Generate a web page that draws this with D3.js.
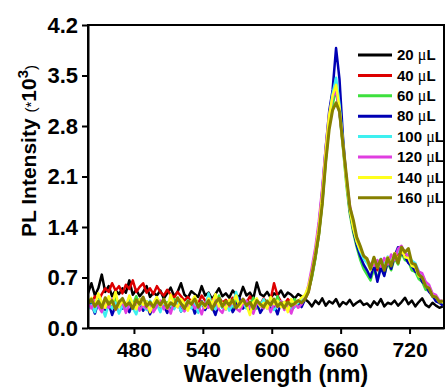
<!DOCTYPE html>
<html>
<head>
<meta charset="utf-8">
<script src="https://cdn.jsdelivr.net/npm/d3@7"></script>
<style>
  body { margin: 0; background: #fff; }
  svg { display: block; font-family: "Liberation Sans", Arial, sans-serif; }
</style>
</head>
<body>
<script>
// sampled wavelengths (nm)
const wavelength = [
  440,443,446,449,452,455,458,461,464,467,
  470,473,476,479,482,485,488,491,494,497,
  500,503,506,509,512,515,518,521,524,527,
  530,533,536,539,542,545,548,551,554,557,
  560,563,566,569,572,575,578,581,584,587,
  590,593,596,599,602,605,608,611,614,617,
  620,623,626,629,632,635,638,641,644,647,
  650,653,656,659,662,665,668,671,674,677,
  680,683,686,689,692,695,698,701,704,707,
  710,713,716,719,722,725,728,731,734,737,
  740,743,746,749
];

// PL intensity (*10^3) per volume
const s20 = [
  0.48,0.62,0.45,0.55,0.74,0.50,0.58,0.44,0.52,0.47,
  0.55,0.49,0.66,0.46,0.53,0.44,0.50,0.58,0.43,0.49,
  0.45,0.52,0.41,0.48,0.56,0.44,0.50,0.62,0.46,0.42,
  0.51,0.47,0.43,0.58,0.45,0.49,0.40,0.47,0.55,0.44,
  0.48,0.42,0.52,0.46,0.43,0.57,0.45,0.49,0.41,0.63,
  0.47,0.44,0.50,0.42,0.48,0.45,0.52,0.43,0.49,0.46,
  0.41,0.47,0.44,
  0.40,0.36,0.30,0.38,0.33,0.41,0.31,0.37,0.34,0.40,0.30,0.36,0.33,0.39,0.31,0.35,0.38,0.32,
  0.34,0.29,0.37,0.32,0.40,0.30,0.35,0.33,0.38,0.31,0.36,0.42,0.33,0.38,0.30,0.36,0.41,0.32,0.29,0.35,0.31,0.28,0.30
];
const s40 = [
  0.40,0.35,0.44,0.38,0.47,0.55,0.50,0.62,0.52,0.58,
  0.48,0.60,0.54,0.66,0.50,0.57,0.62,0.49,0.55,0.47,
  0.58,0.50,0.45,0.53,0.46,0.42,0.50,0.44,0.38,0.43,
  0.36,0.41,0.34,0.45,0.38,0.32,0.40,0.36,0.43,0.35,
  0.39,0.33,0.42,0.37,0.31,0.40,0.35,0.44,0.36,0.38,
  0.32,0.41,0.35,0.39,0.62,0.45,0.37,0.33,0.40,0.35,
  0.38,0.34,0.39,
  0.40,0.50,0.72,0.98,1.30,1.75,2.35,2.85,3.15,3.30,3.00,2.55,2.05,1.65,1.40,1.22,1.08,0.98,
  0.92,0.85,0.90,0.80,0.88,0.84,0.93,0.89,0.97,1.02,1.07,1.00,0.96,0.86,0.80,0.72,0.65,0.57,0.52,0.46,0.42,0.38,0.35
];
const s60 = [
  0.30,0.36,0.28,0.40,0.33,0.26,0.38,0.31,0.42,0.29,
  0.35,0.27,0.39,0.32,0.44,0.30,0.25,0.37,0.33,0.28,
  0.41,0.34,0.29,0.36,0.27,0.40,0.32,0.35,0.26,0.38,
  0.31,0.43,0.29,0.34,0.27,0.39,0.33,0.30,0.45,0.28,
  0.36,0.32,0.26,0.40,0.34,0.29,0.37,0.31,0.42,0.27,
  0.35,0.30,0.38,0.33,0.28,0.44,0.31,0.36,0.29,0.34,
  0.40,0.32,0.37,
  0.42,0.52,0.70,0.96,1.28,1.72,2.30,2.80,3.10,3.30,2.98,2.50,1.98,1.58,1.32,1.12,0.95,0.82,
  0.74,0.66,0.82,0.68,0.86,0.74,0.90,0.80,0.97,0.88,1.04,0.94,0.92,0.80,0.78,0.68,0.64,0.53,0.52,0.43,0.42,0.36,0.35
];
const s80 = [
  0.28,0.33,0.20,0.36,0.30,0.25,0.34,0.18,0.31,0.37,
  0.27,0.32,0.22,0.35,0.29,0.40,0.24,0.33,0.19,0.30,
  0.36,0.26,0.31,0.21,0.34,0.28,0.38,0.23,0.32,0.27,
  0.35,0.20,0.30,0.37,0.25,0.33,0.29,0.18,0.34,0.31,
  0.26,0.36,0.22,0.30,0.41,0.27,0.33,0.24,0.31,0.36,
  0.21,0.29,0.34,0.27,0.32,0.19,0.35,0.28,0.33,0.25,
  0.30,0.36,0.29,
  0.40,0.55,0.78,1.05,1.42,1.90,2.50,3.00,3.30,3.88,3.45,2.65,2.05,1.62,1.36,1.15,1.00,0.88,
  0.80,0.70,0.88,0.64,0.84,0.72,0.94,0.82,1.00,1.12,1.03,0.99,0.90,0.86,0.78,0.76,0.64,0.60,0.50,0.45,0.37,0.35,0.31
];
const s100 = [
  0.26,0.32,0.22,0.38,0.29,0.16,0.33,0.27,0.35,0.20,
  0.31,0.24,0.36,0.28,0.19,0.34,0.30,0.25,0.38,0.27,
  0.33,0.22,0.37,0.29,0.31,0.26,0.35,0.23,0.30,0.38,
  0.27,0.33,0.21,0.36,0.29,0.48,0.31,0.26,0.34,0.28,
  0.37,0.24,0.32,0.50,0.29,0.35,0.27,0.33,0.22,0.36,
  0.30,0.40,0.27,0.34,0.25,0.31,0.37,0.28,0.33,0.24,
  0.30,0.35,0.38,
  0.44,0.56,0.75,1.02,1.36,1.82,2.42,2.92,3.25,3.47,3.10,2.58,2.05,1.66,1.40,1.20,1.06,0.96,
  0.90,0.82,0.94,0.85,0.96,0.87,0.99,0.92,1.02,1.05,1.12,1.03,1.02,0.93,0.90,0.79,0.74,0.63,0.58,0.47,0.44,0.37,0.36
];
const s120 = [
  0.34,0.27,0.38,0.30,0.22,0.35,0.28,0.40,0.25,0.31,
  0.36,0.21,0.33,0.29,0.37,0.24,0.32,0.27,0.35,0.22,
  0.30,0.38,0.26,0.33,0.20,0.36,0.29,0.34,0.23,0.31,
  0.37,0.27,0.32,0.19,0.35,0.28,0.33,0.40,0.26,0.21,
  0.34,0.30,0.36,0.27,0.23,0.33,0.38,0.29,0.20,0.35,
  0.31,0.27,0.36,0.22,0.33,0.29,0.37,0.25,0.31,0.20,
  0.34,0.28,0.33,
  0.42,0.60,0.85,1.12,1.48,1.95,2.50,2.95,3.20,3.30,3.00,2.55,2.08,1.70,1.45,1.25,1.10,1.00,
  0.95,0.88,0.86,0.94,0.85,0.97,0.88,1.02,0.94,1.10,1.14,1.04,1.00,0.90,0.88,0.78,0.76,0.64,0.60,0.48,0.46,0.38,0.37
];
const s140 = [
  0.35,0.42,0.30,0.48,0.36,0.28,0.44,0.33,0.50,0.29,
  0.38,0.31,0.45,0.34,0.26,0.40,0.32,0.37,0.22,0.35,
  0.43,0.30,0.38,0.27,0.46,0.33,0.29,0.40,0.34,0.24,
  0.37,0.44,0.31,0.36,0.28,0.41,0.33,0.47,0.30,0.35,
  0.26,0.39,0.34,0.45,0.29,0.37,0.32,0.18,0.36,0.41,
  0.30,0.35,0.27,0.43,0.33,0.38,0.29,0.36,0.22,0.40,
  0.33,0.37,0.42,
  0.46,0.58,0.78,1.05,1.40,1.85,2.45,2.95,3.22,3.37,3.05,2.55,2.02,1.64,1.38,1.20,1.08,1.00,
  0.94,0.80,0.97,0.84,0.93,0.82,0.98,0.88,1.04,0.94,1.08,0.98,0.97,0.86,0.84,0.72,0.70,0.58,0.55,0.45,0.43,0.36,0.36
];
const s160 = [
  0.34,0.40,0.30,0.37,0.28,0.42,0.33,0.38,0.26,0.36,
  0.41,0.31,0.35,0.27,0.39,0.33,0.43,0.30,0.36,0.29,
  0.38,0.32,0.40,0.28,0.35,0.31,0.42,0.34,0.27,0.37,
  0.33,0.40,0.29,0.36,0.31,0.38,0.26,0.35,0.41,0.30,
  0.37,0.32,0.39,0.28,0.34,0.40,0.31,0.36,0.27,0.38,
  0.33,0.29,0.37,0.32,0.40,0.30,0.35,0.28,0.36,0.31,
  0.34,0.38,0.35,
  0.40,0.50,0.74,1.00,1.30,1.72,2.30,2.75,3.02,3.12,3.00,2.55,2.12,1.68,1.50,1.26,1.14,1.00,
  0.96,0.82,0.98,0.84,0.95,0.80,0.97,0.86,1.03,0.90,1.12,1.05,1.10,0.90,0.88,0.74,0.70,0.58,0.55,0.44,0.43,0.36,0.38
];

const volumes = ["20", "40", "60", "80", "100", "120", "140", "160"];
const values = [s20, s40, s60, s80, s100, s120, s140, s160];
const colors = ["#000000", "#dd0000", "#3ee03e", "#0000b4", "#3ef0f0", "#e03ee0", "#ffff1e", "#868000"];
const xTicks = [480, 540, 600, 660, 720];
const yTicks = [0, 0.7, 1.4, 2.1, 2.8, 3.5, 4.2];

const width = 446, height = 392;
const margin = { top: 25, right: 2, bottom: 64, left: 88 };

const svg = d3.select("body").append("svg")
  .attr("width", width)
  .attr("height", height);

const x = d3.scaleLinear()
  .domain([440, 750])
  .range([margin.left, width - margin.right]);
const y = d3.scaleLinear()
  .domain([0, 4.2])
  .range([height - margin.bottom, margin.top]);

svg.append("clipPath").attr("id", "plot")
  .append("rect")
  .attr("x", margin.left).attr("y", margin.top)
  .attr("width", width - margin.right - margin.left)
  .attr("height", height - margin.bottom - margin.top);

// spectra, 20 uL drawn first, 160 uL on top
const line = d3.line()
  .x(d => x(d[0]))
  .y(d => y(d[1]));

svg.append("g")
  .attr("clip-path", "url(#plot)")
  .selectAll("path")
  .data(values)
  .join("path")
  .attr("fill", "none")
  .attr("stroke", (d, i) => colors[i])
  .attr("stroke-width", (d, i) => i === 7 ? 3 : 2.5)
  .attr("stroke-linejoin", "round")
  .attr("d", d => line(d.map((v, i) => [wavelength[i], v])));

// frame
svg.append("rect")
  .attr("x", margin.left).attr("y", margin.top)
  .attr("width", width - margin.right - margin.left)
  .attr("height", height - margin.bottom - margin.top)
  .attr("fill", "none")
  .attr("stroke", "#000")
  .attr("stroke-width", 2);

// axes
const xAxis = d3.axisBottom(x)
  .tickValues(xTicks)
  .tickSize(6)
  .tickSizeOuter(0)
  .tickPadding(8);
const yAxis = d3.axisLeft(y)
  .tickValues(yTicks)
  .tickSize(6)
  .tickSizeOuter(0)
  .tickPadding(4)
  .tickFormat(d3.format(".1f"));

const gx = svg.append("g")
  .attr("transform", `translate(0,${height - margin.bottom})`)
  .call(xAxis);
const gy = svg.append("g")
  .attr("transform", `translate(${margin.left},0)`)
  .call(yAxis);

[gx, gy].forEach(g => {
  g.selectAll("path, line").attr("stroke", "#000").attr("stroke-width", 2);
  g.selectAll("text")
    .attr("fill", "#000")
    .style("font-family", '"Liberation Sans", Arial, sans-serif')
    .style("font-weight", "bold");
});
gx.selectAll("text").style("font-size", "21px");
gy.selectAll("text").style("font-size", "22px");

// axis titles
svg.append("text")
  .attr("x", 276)
  .attr("y", 382)
  .attr("text-anchor", "middle")
  .style("font-size", "23px")
  .style("font-weight", "bold")
  .text("Wavelength (nm)");

const yt = svg.append("text")
  .attr("transform", "translate(36,151) rotate(-90)")
  .attr("text-anchor", "middle")
  .style("font-size", "21px")
  .style("font-weight", "bold");
yt.append("tspan").text("PL Intensity ");
yt.append("tspan").style("font-weight", "normal").style("font-size", "15px").text("(*");
yt.append("tspan").text("10");
yt.append("tspan").attr("dy", -8).style("font-size", "15px").text("3");
yt.append("tspan").attr("dy", 8).style("font-weight", "normal").style("font-size", "15px").text(")");

// legend
const legend = svg.append("g")
  .selectAll("g")
  .data(volumes)
  .join("g")
  .attr("transform", (d, i) => `translate(358,${55 + i * 20.4})`);

legend.append("line")
  .attr("x1", 0).attr("x2", 34)
  .attr("stroke", (d, i) => colors[i])
  .attr("stroke-width", 3);

const lt = legend.append("text")
  .attr("x", 39)
  .attr("dy", "0.35em")
  .style("font-size", "15px")
  .style("font-weight", "bold");
lt.append("tspan").text(d => d + " ");
lt.append("tspan")
  .style("font-family", '"Liberation Serif", "Times New Roman", serif')
  .style("font-weight", "normal")
  .style("font-size", "16px")
  .text("\u03bc");
lt.append("tspan").text("L");
</script>
</body>
</html>
